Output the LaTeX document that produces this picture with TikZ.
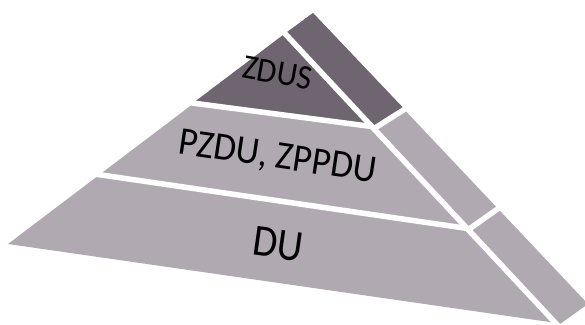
\documentclass[tikz,border=0pt]{standalone}
\usepackage{fontspec}
\setmainfont{Carlito}
\definecolor{pyrLight}{RGB}{176,169,178}
\definecolor{pyrDark}{RGB}{111,101,113}
\tikzset{
  gapline/.style={draw=white, line width=5.5pt, line cap=butt},
  lbl/.style={inner sep=0pt, text=black}
}
\begin{document}
\begin{tikzpicture}[x=1pt,y=-1pt]
\useasboundingbox (0,0) rectangle (585,324);
% base silhouette
\fill[pyrLight] (8,244) -- (313,13) -- (588,304) -- (560,324) -- (553,322.5) -- cycle;
% dark top triangle (ZDUS)
\fill[pyrDark] (192.9,103.1) -- (285,33.5) -- (371.6,126.5) -- cycle;
% dark top piece of side strip
\fill[pyrDark] (285,33.5) -- (313,13) -- (404.6,109.3) -- (373.8,128.7) -- cycle;
% white gaps
\draw[gapline] (180,101.4) -- (371.6,126.5);
\draw[gapline] (85,172.6) -- (467,228.4);
\draw[gapline] (373.8,128.7) -- (415,102.7);
\draw[gapline] (468.2,229.7) -- (510,200.2);
\draw[gapline] (275,22.9) -- (566,334.3);
% labels
\node[lbl, rotate=-10, yscale=1.08] (zdus) at (277.5,73) {\fontsize{32}{36}\selectfont ZDUS};
\node[lbl, rotate=-8.5, yscale=1.08] (pzdu) at (277.5,158) {\fontsize{36.5}{40}\selectfont PZDU, ZPPDU};
\node[lbl, rotate=-8, yscale=1.12] (du) at (278,244) {\fontsize{40}{44}\selectfont DU};
\end{tikzpicture}
\end{document}
